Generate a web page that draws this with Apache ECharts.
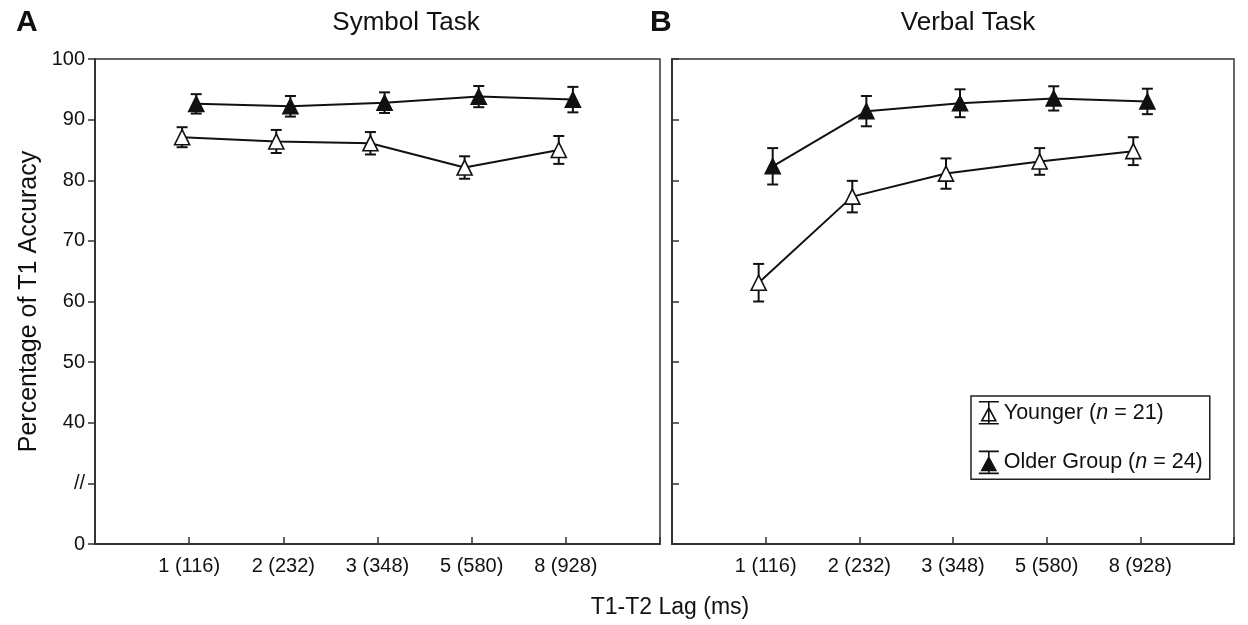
<!DOCTYPE html>
<html>
<head>
<meta charset="utf-8">
<title>T1 accuracy</title>
<script src="https://cdn.jsdelivr.net/npm/echarts@6/dist/echarts.min.js"></script>
<style>
  html, body { margin: 0; padding: 0; background: #fff; }
  #main { width: 1248px; height: 625px; }
</style>
</head>
<body>
<div id="main"></div>
<script>
// lag labels (x axis)
var lags = ['1 (116)', '2 (232)', '3 (348)', '5 (580)', '8 (928)'];

// panel A - symbol task
var symbolYounger = [87.1, 86.4, 86.1, 82.1, 85.0];
var symbolYoungerErr = [1.65, 1.9, 1.85, 1.85, 2.3];
var symbolOlder = [92.6, 92.2, 92.8, 93.8, 93.3];
var symbolOlderErr = [1.6, 1.7, 1.7, 1.75, 2.1];

// panel B - verbal task
var verbalYounger = [63.1, 77.3, 81.1, 83.1, 84.8];
var verbalYoungerErr = [3.1, 2.6, 2.5, 2.2, 2.3];
var verbalOlder = [82.3, 91.4, 92.7, 93.5, 93.0];
var verbalOlderErr = [3.0, 2.5, 2.3, 2.0, 2.1];

// y tick labels: axis is broken, bottom reads 0, next one //
var yTickText = { 20: '0', 30: '//' };

var FONT = '"Liberation Sans", Arial, sans-serif';
var INK = '#111';

var myChart = echarts.init(document.getElementById('main'));

// small horizontal shift so the two groups do not overlap
function pts(vals, shift) {
    var out = [];
    for (var i = 0; i < vals.length; i++) {
        out.push([i + 1 + shift, vals[i]]);
    }
    return out;
}
function errs(vals, e, shift) {
    var out = [];
    for (var i = 0; i < vals.length; i++) {
        out.push([i + 1 + shift, vals[i] - e[i], vals[i] + e[i]]);
    }
    return out;
}

function renderErr(params, api) {
    var lo = api.coord([api.value(0), api.value(1)]);
    var hi = api.coord([api.value(0), api.value(2)]);
    var w = 5.5;
    var st = { stroke: INK, lineWidth: 2 };
    return {
        type: 'group',
        children: [
            { type: 'line', shape: { x1: lo[0], y1: lo[1], x2: hi[0], y2: hi[1] }, style: st },
            { type: 'line', shape: { x1: lo[0] - w, y1: lo[1], x2: lo[0] + w, y2: lo[1] }, style: st },
            { type: 'line', shape: { x1: hi[0] - w, y1: hi[1], x2: hi[0] + w, y2: hi[1] }, style: st }
        ]
    };
}

var openStyle = { color: '#fff', borderColor: INK, borderWidth: 1.6 };
var fillStyle = { color: INK, borderColor: INK, borderWidth: 1.6 };

function lineSeries(name, idx, data, style) {
    return {
        name: name, type: 'line', xAxisIndex: idx, yAxisIndex: idx,
        data: data, symbol: 'triangle', symbolSize: 15,
        itemStyle: style,
        lineStyle: { color: INK, width: 2 },
        z: 3, animation: false
    };
}
function errSeries(idx, data) {
    return {
        type: 'custom', xAxisIndex: idx, yAxisIndex: idx,
        renderItem: renderErr, data: data, z: 2, animation: false, silent: true
    };
}

function xAxis(idx) {
    return {
        type: 'value', gridIndex: idx, min: 0, max: 6, interval: 1,
        axisLine: { show: true, lineStyle: { color: '#333', width: 2 } },
        axisTick: { show: true, inside: true, length: 7, lineStyle: { color: '#333', width: 1.5 } },
        axisLabel: {
            margin: 12, color: INK, fontSize: 20, fontFamily: FONT,
            formatter: function (v) { return lags[v - 1] || ''; }
        },
        splitLine: { show: false }
    };
}
function yAxis(idx, labels) {
    return {
        type: 'value', gridIndex: idx, min: 20, max: 100, interval: 10,
        axisLine: { show: true, lineStyle: { color: '#333', width: 2 } },
        axisTick: { show: true, inside: !labels, length: 7, lineStyle: { color: '#333', width: 1.5 } },
        axisLabel: {
            show: labels, margin: 10, color: INK, fontSize: 20, fontFamily: FONT,
            formatter: function (v) { return yTickText[v] || String(v); }
        },
        splitLine: { show: false },
        name: labels ? 'Percentage of T1 Accuracy' : '',
        nameLocation: 'middle', nameGap: 53, nameRotate: 90,
        nameTextStyle: { color: INK, fontSize: 25, fontFamily: FONT }
    };
}

var legendIcon = 'path://M0,0H20M10,0V22M0,22H20M10,6L3,19H17Z';

var option = {
    backgroundColor: '#fff',
    animation: false,
    title: [
        { text: 'A', left: 11, top: 3, textStyle: { fontSize: 30, fontWeight: 'bold', color: INK, fontFamily: FONT } },
        { text: 'Symbol Task', left: 401, top: 5, textAlign: 'center', textStyle: { fontSize: 26, fontWeight: 'normal', color: INK, fontFamily: FONT } },
        { text: 'B', left: 645, top: 3, textStyle: { fontSize: 30, fontWeight: 'bold', color: INK, fontFamily: FONT } },
        { text: 'Verbal Task', left: 963, top: 5, textAlign: 'center', textStyle: { fontSize: 26, fontWeight: 'normal', color: INK, fontFamily: FONT } },
        { text: 'T1-T2 Lag (ms)', left: 665, top: 591, textAlign: 'center', textStyle: { fontSize: 23, fontWeight: 'normal', color: INK, fontFamily: FONT } }
    ],
    grid: [
        { left: 95, right: 588, top: 59, bottom: 81, show: true, borderColor: '#333', borderWidth: 1.5, containLabel: false },
        { left: 672, right: 14, top: 59, bottom: 81, show: true, borderColor: '#333', borderWidth: 1.5, containLabel: false }
    ],
    xAxis: [xAxis(0), xAxis(1)],
    yAxis: [yAxis(0, true), yAxis(1, false)],
    legend: {
        orient: 'vertical', left: 971, top: 396,
        padding: [5, 7, 5, 7], itemGap: 26,
        itemWidth: 20, itemHeight: 22,
        backgroundColor: '#fff', borderColor: '#222', borderWidth: 1.5, borderRadius: 0,
        icon: legendIcon,
        data: [
            { name: 'Younger', itemStyle: openStyle },
            { name: 'Older Group', itemStyle: fillStyle }
        ],
        formatter: function (name) {
            return name === 'Younger'
                ? '{t|Younger (}{i|n}{t| = 21)}'
                : '{t|Older Group (}{i|n}{t| = 24)}';
        },
        textStyle: {
            color: INK, fontFamily: FONT, fontSize: 21.5,
            rich: {
                t: { fontSize: 21.5, fontFamily: FONT, color: INK },
                i: { fontSize: 21.5, fontFamily: FONT, color: INK, fontStyle: 'italic' }
            }
        }
    },
    series: [
        errSeries(0, errs(symbolYounger, symbolYoungerErr, -0.075)),
        errSeries(0, errs(symbolOlder, symbolOlderErr, 0.075)),
        lineSeries('Younger', 0, pts(symbolYounger, -0.075), openStyle),
        lineSeries('Older Group', 0, pts(symbolOlder, 0.075), fillStyle),
        errSeries(1, errs(verbalYounger, verbalYoungerErr, -0.075)),
        errSeries(1, errs(verbalOlder, verbalOlderErr, 0.075)),
        lineSeries('Younger', 1, pts(verbalYounger, -0.075), openStyle),
        lineSeries('Older Group', 1, pts(verbalOlder, 0.075), fillStyle)
    ]
};

myChart.setOption(option);
</script>
</body>
</html>
